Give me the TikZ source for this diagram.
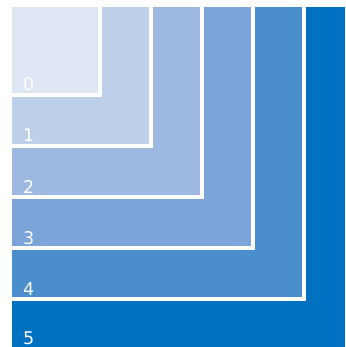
\documentclass[tikz,border=0pt]{standalone}
\usepackage{fontspec}
\setmainfont{DejaVu Sans}
\usetikzlibrary{positioning}

\definecolor{lvzero}{HTML}{DEE6F4}
\definecolor{lvone}{HTML}{BDD0EA}
\definecolor{lvtwo}{HTML}{9DB8E1}
\definecolor{lvthree}{HTML}{7BA4D8}
\definecolor{lvfour}{HTML}{4A8ECD}
\definecolor{lvfive}{HTML}{0070C0}

\tikzset{
  lvlabel/.style={anchor=base west,inner sep=0pt,text=white,font=\fontsize{17.5}{20}\selectfont}
}

\begin{document}
\begin{tikzpicture}[x=1pt,y=-1pt]
\useasboundingbox (0,0) rectangle (345,347);

% Outer level
\fill[lvfive] (12,7) rectangle (345,347);
\node[lvlabel] (l5) at (23,344.5) {5};

% Inner levels, biggest first
\foreach \k/\c in {4/lvfour,3/lvthree,2/lvtwo,1/lvone,0/lvzero}{
  \fill[white] (12,7) rectangle ({102+51*\k},{97+51*\k});
  \fill[\c] (12,7) rectangle ({98+51*\k},{93+51*\k});
  \node[lvlabel] (l\k) at (23,{91+51*\k}) {\k};
}

\end{tikzpicture}
\end{document}
